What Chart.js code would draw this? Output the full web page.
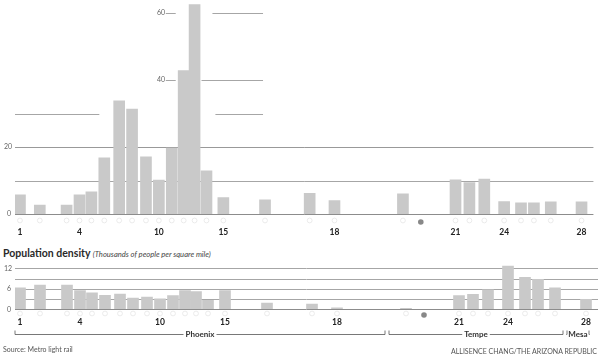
<!DOCTYPE html>
<html><head><meta charset="utf-8">
<script src="https://cdn.jsdelivr.net/npm/chart.js@4.4.0/dist/chart.umd.min.js"></script>
<style>
html,body{margin:0;padding:0;background:#fff;}
#wrap{position:relative;width:600px;height:358px;overflow:hidden;background:#fff;font-family:Lato,"Open Sans",sans-serif;}
#c1{position:absolute;left:0;top:0;}
#c2{position:absolute;left:0;top:260px;}
.t{position:absolute;white-space:nowrap;color:#333;line-height:1;}
</style></head><body>
<div id="wrap">
<canvas id="c1" width="600" height="240"></canvas>
<canvas id="c2" width="600" height="98"></canvas>
<div class="t" style="left:3px;top:248px;font-weight:700;font-size:10.5px;color:#2a2a2a">Population density <span style="font-weight:400;font-style:italic;font-size:7.6px;color:#444">(Thousands of people per square mile)</span></div>
<div class="t" style="left:3px;top:346px;font-size:7px;color:#555">Source: Metro light rail</div>
<div class="t" style="right:3px;top:348px;font-size:7px;color:#555">ALLISENCE CHANG/THE ARIZONA REPUBLIC</div>
</div>
<script>
// ---- data ----
const stations = [1,2,3,4,5,6,7,8,9,10,11,12,13,14,15,16,17,18,19,20,21,22,23,24,25,26,27,28];
// relative position of each station along the line
const stationPos = [20,40,67,80,92,105,120,133,147,160,173,185,196,208,225,267,312,337,406,424,459,473,488,508,525,538,555,586];
const topValues = [5.7,2.7,2.7,5.7,6.6,16.8,33.8,31.3,17.1,10.1,19.7,42.8,62.5,12.9,4.9,4.2,6.2,4.0,6.0,null,10.2,9.4,10.4,3.7,3.3,3.3,3.6,3.6];
const densityValues = [6.3,7.1,7.1,5.5,4.8,4.1,4.5,3.3,3.6,3.1,4.0,5.5,5.2,2.6,5.5,1.8,1.5,0.4,0.3,null,4.0,4.4,5.7,12.7,9.4,8.8,6.3,2.9];
const labeledStations = [1,4,10,15,18,21,24,28];
const topTickLabels = [0,20,40,60];
const densityTickLabels = [0,6,12];
const futureStation = 20;
const cities = ['Phoenix','Tempe','Mesa'];
const cityStart = [15,389,567];
const cityEnd = [385,563,589];

const FONT = 'Lato, "Open Sans", sans-serif';
const BAR = '#c9c9c9';

function decor(cfg){
  return {
    id:'decor',
    beforeDatasetsDraw(chart){
      const ctx = chart.ctx, xs = chart.scales.x, ys = chart.scales.y;
      ctx.save();
      ctx.lineWidth = 1;
      cfg.grid.forEach(g=>{
        ctx.strokeStyle = g.c || '#a6a6a6';
        const py = Math.round(ys.getPixelForValue(g.v)) + 0.5;
        g.seg.forEach(([a,b])=>{
          ctx.beginPath(); ctx.moveTo(xs.getPixelForValue(a), py); ctx.lineTo(xs.getPixelForValue(b), py); ctx.stroke();
        });
      });
      ctx.fillStyle = '#666';
      ctx.font = '7px ' + FONT;
      ctx.textAlign = 'right'; ctx.textBaseline = 'middle';
      cfg.ticks.forEach((v,i)=>{
        ctx.fillText(String(v), cfg.tickX[i], ys.getPixelForValue(v));
      });
      ctx.restore();
    },
    afterDatasetsDraw(chart){
      const ctx = chart.ctx, xs = chart.scales.x, ys = chart.scales.y;
      ctx.save();
      const y0 = Math.round(ys.getPixelForValue(0)) + 0.5;
      ctx.strokeStyle = '#8c8c8c'; ctx.lineWidth = 1;
      ctx.beginPath(); ctx.moveTo(xs.left, y0); ctx.lineTo(xs.right, y0); ctx.stroke();
      // station markers
      stations.forEach((s,i)=>{
        const px = xs.getPixelForValue(stationPos[i]);
        ctx.beginPath();
        if (s === futureStation){
          ctx.fillStyle = '#888';
          ctx.arc(px, y0 + cfg.markerDy + 1.5, 2.8, 0, Math.PI*2); ctx.fill();
        } else {
          ctx.strokeStyle = '#e6e6e6'; ctx.lineWidth = 0.8;
          ctx.arc(px, y0 + cfg.markerDy, 2.4, 0, Math.PI*2); ctx.stroke();
        }
      });
      if (cfg.brackets){
        const by = cfg.bracketY + 0.5;
        ctx.strokeStyle = '#555'; ctx.lineWidth = 0.8;
        ctx.fillStyle = '#333';
        ctx.font = 'bold 8px ' + FONT;
        ctx.textAlign = 'center'; ctx.textBaseline = 'middle';
        cities.forEach((c,i)=>{
          const a = xs.getPixelForValue(cityStart[i]), b = xs.getPixelForValue(cityEnd[i]);
          const mid = (a+b)/2, w = ctx.measureText(c).width;
          ctx.beginPath();
          ctx.moveTo(a, by-4); ctx.lineTo(a, by); ctx.lineTo(mid - w/2 - 2, by);
          ctx.moveTo(mid + w/2 + 2, by); ctx.lineTo(b, by); ctx.lineTo(b, by-4);
          ctx.stroke();
          ctx.fillText(c, mid, by);
        });
      }
      ctx.restore();
    }
  };
}

function xAxis(pad, h){
  return {
    type:'linear', min:15, max:598, offset:false,
    grid:{display:false, drawTicks:false, tickLength:0},
    border:{display:false},
    afterBuildTicks: s => { s.ticks = labeledStations.map(n => ({value: stationPos[n-1]})); },
    afterFit: s => { s.height = h; },
    ticks:{
      padding: pad, autoSkip:false, maxRotation:0, minRotation:0,
      color:'#222', font:{family:FONT, weight:'bold', size:8.5},
      callback: v => { const k = stationPos.indexOf(v); return k >= 0 ? String(stations[k]) : ''; }
    }
  };
}

function points(vals){
  return stationPos.map((x,i)=>({x, y: vals[i]})).filter(p => p.y !== null);
}

new Chart(document.getElementById('c1'), {
  type:'bar',
  data:{datasets:[{data: points(topValues), backgroundColor: BAR, borderWidth:0, barThickness:11}]},
  options:{
    responsive:false, animation:false,
    layout:{padding:{left:15, right:2, top:3, bottom:0}},
    plugins:{legend:{display:false}, tooltip:{enabled:false}},
    scales:{ x: xAxis(13.5, 26), y:{display:false, min:0, max:63} }
  },
  plugins:[decor({
    grid:[
      {v:10, seg:[[15,598]]},
      {v:20, seg:[[15,598]], c:'#999'},
      {v:30, seg:[[15,100],[217,265]]},
      {v:40, seg:[[167,177],[203,265]]},
      {v:60, seg:[[167,177],[214,265]]}
    ],
    ticks: topTickLabels,
    tickX: [11,12,165,165],
    markerDy: 6
  })]
});

new Chart(document.getElementById('c2'), {
  type:'bar',
  data:{datasets:[{data: points(densityValues), backgroundColor: BAR, borderWidth:0, barThickness:11}]},
  options:{
    responsive:false, animation:false,
    layout:{padding:{left:15, right:2, top:5, bottom:0}},
    plugins:{legend:{display:false}, tooltip:{enabled:false}},
    scales:{ x: xAxis(8, 48.7), y:{display:false, min:0, max:13} }
  },
  plugins:[decor({
    grid:[
      {v:3, seg:[[15,598]]},
      {v:6, seg:[[15,598]]},
      {v:9, seg:[[15,598]]},
      {v:12, seg:[[15,598]]}
    ],
    ticks: densityTickLabels,
    tickX: [11,11,12],
    markerDy: 4,
    brackets: true,
    bracketY: 74
  })]
});
</script>
</body></html>
